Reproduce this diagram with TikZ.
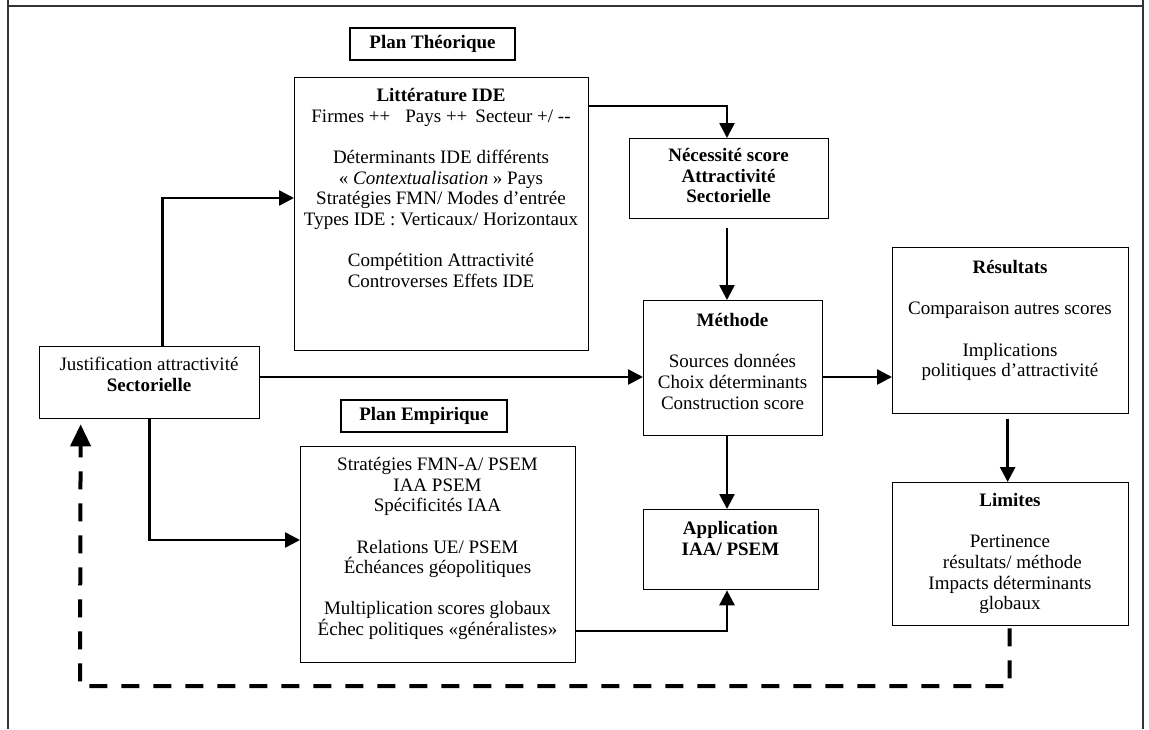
\documentclass[tikz,border=0pt]{standalone}
\usepackage{fontspec}
\setmainfont{Liberation Serif}
\usetikzlibrary{arrows.meta,calc}
\begin{document}
\begin{tikzpicture}[x=1pt,y=-1pt,
 box/.style={draw, line width=1.3pt, inner sep=0pt, anchor=north west},
 txt/.style={anchor=north, inner sep=0pt, align=center, font=\fontsize{19}{20.6}\selectfont},
 tag/.style={draw, line width=1.3pt, inner sep=0pt, font=\fontsize{19}{20.6}\selectfont\bfseries},
 arr/.style={line width=2.6pt, -{Triangle[length=15pt,width=15pt]}},
 darr/.style={line width=4pt, dash pattern=on 18pt off 14pt, -{Triangle[length=22pt,width=20pt]}},
]
\useasboundingbox (0,0) rectangle (1149,729);
% outer frame
\draw[line width=1.3pt, black!80] (8,0) -- (8,729) (1143,0) -- (1143,729) (8,6) -- (1143,6);

% helper coordinates
\coordinate (colx) at (727,0);
\coordinate (rowy) at (0,377);
\coordinate (dcorner) at (80,686);

% tags
\node[tag, minimum width=165pt, minimum height=32pt] (pth) at (432.5,44) {Plan Théorique};
\node[tag, minimum width=166pt, minimum height=32pt] (pem) at (424,416) {Plan Empirique};

% boxes
\node[box, minimum width=294pt, minimum height=273pt] (lit) at (294,77) {};
\node[txt] (littxt) at (441,87) {\strut\textbf{Littérature IDE}\\
Firmes ++\hspace{15pt}Pays ++\hspace{8pt}Secteur +/ -{}-\\[20.6pt]
Déterminants IDE différents\\
« \textit{Contextualisation} » Pays\\
Stratégies FMN/ Modes d’entrée\\
Types IDE : Verticaux/ Horizontaux\\[20.6pt]
Compétition Attractivité\\
Controverses Effets IDE};

\node[box, minimum width=199pt, minimum height=80pt] (nec) at (629,138) {};
\node[txt, font=\fontsize{19}{20.6}\selectfont\bfseries] (nectxt) at (728.5,147) {\strut Nécessité score\\Attractivité\\Sectorielle};

\node[box, minimum width=179pt, minimum height=135pt] (meth) at (643,300) {};
\node[txt] (methtxt) at (732.5,312) {\strut\textbf{Méthode}\\[20.6pt]
Sources données\\Choix déterminants\\Construction score};

\node[box, minimum width=175pt, minimum height=80pt] (app) at (643,509) {};
\node[txt, font=\fontsize{19}{20.6}\selectfont\bfseries] (apptxt) at (730.5,520) {\strut Application\\IAA/ PSEM};

\node[box, minimum width=220pt, minimum height=72pt] (just) at (39,346) {};
\node[txt] (justtxt) at (149,356) {\strut Justification attractivité\\\textbf{Sectorielle}};

\node[box, minimum width=275pt, minimum height=216pt] (emp) at (300,446) {};
\node[txt] (emptxt) at (437.5,456) {\strut Stratégies FMN-A/ PSEM\\
IAA PSEM\\
Spécificités IAA\\[20.6pt]
Relations UE/ PSEM\\
Échéances géopolitiques\\[20.6pt]
Multiplication scores globaux\\
Échec politiques «généralistes»};

\node[box, minimum width=236pt, minimum height=166pt] (res) at (892,247) {};
\node[txt] (restxt) at (1010,259) {\strut\textbf{Résultats}\\[20.6pt]
Comparaison autres scores\\[20.6pt]
Implications\\politiques d’attractivité};

\node[box, minimum width=236pt, minimum height=143pt] (lim) at (892,482) {};
\node[txt] (limtxt) at (1010,492) {\strut\textbf{Limites}\\[20.6pt]
Pertinence\\\ résultats/ méthode\\Impacts déterminants\\globaux};

% connectors
\draw[arr] ([yshift=-29pt]lit.north east) -| (nec.north -| colx);
\draw[arr, shorten <=9pt] (nec.south -| colx) -- (meth.north -| colx);
\draw[arr] (meth.south -| colx) -- (app.north -| colx);
\draw[arr] (just.east |- rowy) -- (meth.west |- rowy);
\draw[arr] (meth.east |- rowy) -- (res.west |- rowy);
\draw[arr] ([xshift=13pt]just.north) |- (lit.west |- 0,198);
\draw[arr] (just.south) |- (emp.west |- 0,540);
\draw[arr] (emp.east |- 0,631) -| (app.south -| colx);
\draw[arr, shorten <=5pt] ([xshift=-3pt]res.south) -- ([xshift=-3pt]lim.north);
\draw[darr, shorten <=2pt, shorten >=5pt] ([xshift=-1pt]lim.south) |- (dcorner) -- ([xshift=-69pt]just.south);
\end{tikzpicture}
\end{document}
